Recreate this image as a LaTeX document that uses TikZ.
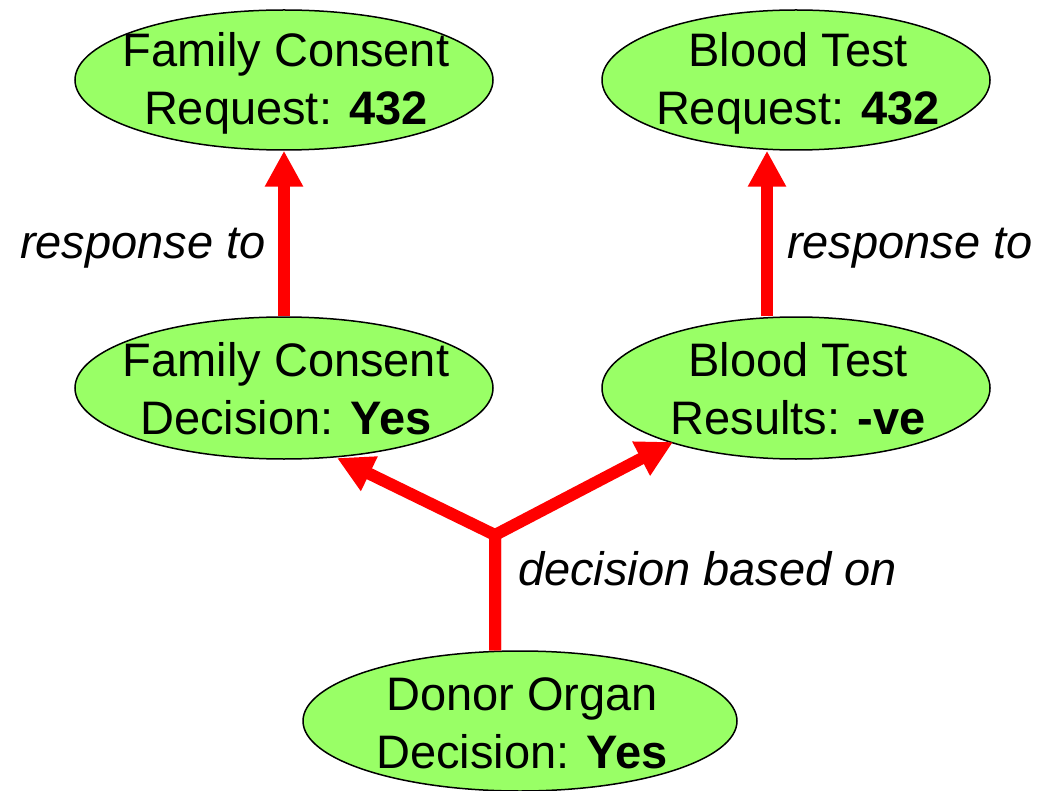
\documentclass[tikz,border=0pt]{standalone}
\usepackage{fontspec}
\setmainfont{Liberation Sans}
\usetikzlibrary{shapes.geometric,arrows.meta}
\definecolor{leaf}{RGB}{153,255,102}
\tikzset{
  state/.style={ellipse, draw=black, line width=1.5pt, fill=leaf, inner sep=0pt},
  statetext/.style={inner sep=0pt, align=center, font=\fontsize{47}{58}\selectfont},
  link/.style={draw=red, line width=12pt, line join=miter,
    -{Triangle[length=36pt,width=36pt]}},
  rel/.style={inner sep=0pt, font=\fontsize{47}{57}\selectfont\itshape}
}
\begin{document}
\begin{tikzpicture}[x=1pt,y=-1pt]
  \useasboundingbox (0,0) rectangle (1043,791);
  % decision records
  \node[state, minimum width=418pt, minimum height=140pt] (fcr) at (284,80) {};
  \node[statetext] (fcrt) at (286,83) {Family Consent\\Request: \textbf{432}};
  \node[state, minimum width=388pt, minimum height=140pt] (btq) at (796,80) {};
  \node[statetext] (btqt) at (798,83) {Blood Test\\Request: \textbf{432}};
  \node[state, minimum width=418pt, minimum height=142pt] (fcd) at (284,388) {};
  \node[statetext] (fcdt) at (286,389) {Family Consent\\Decision: \textbf{Yes}};
  \node[state, minimum width=388pt, minimum height=142pt] (btr) at (796,388) {};
  \node[statetext] (btrt) at (798,389) {Blood Test\\Results: \textbf{-ve}};
  \node[state, minimum width=434pt, minimum height=140pt] (don) at (520,721) {};
  \node[statetext] (dont) at (522,723) {Donor Organ\\Decision: \textbf{Yes}};
  % junction and branch ends
  \coordinate (j) at (495,535);
  \coordinate (tl) at (337,458);
  \coordinate (tr) at (673,442);
  % links
  \draw[link] (fcd.north) -- (fcr.south);
  \draw[link] ([xshift=-29pt]btr.north) -- ([xshift=-29pt]btq.south);
  \draw[link] (don.north -| j) -- (j) -- (tl);
  \draw[link] (don.north -| j) -- (j) -- (tr);
  % relation labels
  \node[rel, anchor=east] (r1) at (266,248) {response to};
  \node[rel, anchor=west] (r2) at (787,248) {response to};
  \node[rel, anchor=west] (r3) at (518,569) {decision based on};
\end{tikzpicture}
\end{document}
